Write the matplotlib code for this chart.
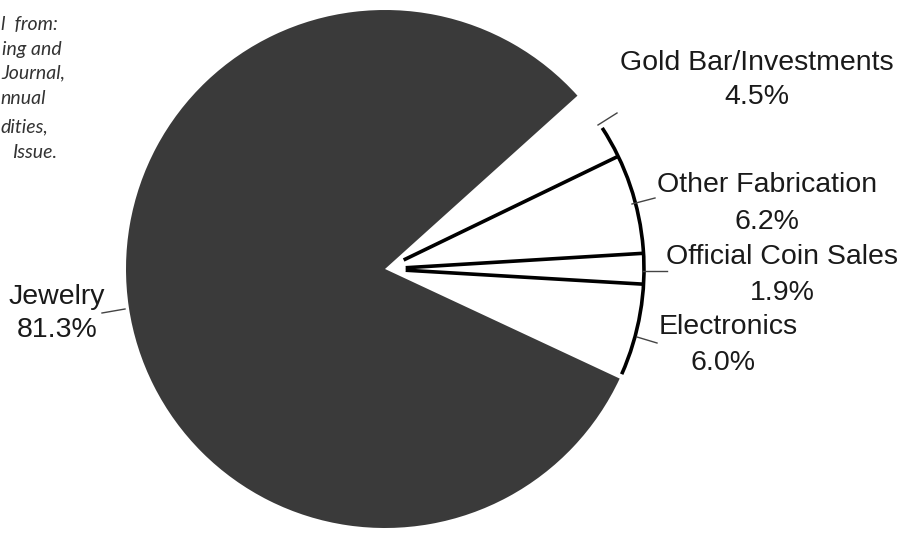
import numpy as np
import matplotlib.pyplot as plt
from matplotlib.patches import Arc

# gold consumption by end use (percent), clockwise from the top-right
labels = ["Gold Bar/Investments", "Other Fabrication", "Official Coin Sales", "Electronics", "Jewelry"]
shares = [4.5, 6.2, 1.9, 6.0, 81.3]
pct_text = ["4.5%", "6.2%", "1.9%", "6.0%", "81.3%"]

# visible fragments of the (cropped) source note
note_lines = ["l  from:", "ing and", "Journal,", "nnual", "dities,", "Issue."]

W, H = 900, 533
DARK = "#3a3a3a"

fig = plt.figure(figsize=(9, 5.33), dpi=100)
ax = fig.add_axes([0, 0, 1, 1])

def fy(y):
    # image pixel row -> data y
    return H - y

cx, cy, R = 385, fy(269), 259
start = 42

colors = ["white"] * 4 + [DARK]
ax.pie(shares, startangle=start, counterclock=False, colors=colors,
       center=(cx, cy), radius=R, wedgeprops=dict(linewidth=0))

# black radial lines between the white slices
bounds = start - 3.6 * np.cumsum(shares)
for th in bounds[:3]:
    t = np.radians(th)
    ax.plot([cx + 0.08 * R * np.cos(t), cx + R * np.cos(t)],
            [cy + 0.08 * R * np.sin(t), cy + R * np.sin(t)],
            color="black", lw=2.6, solid_capstyle="butt")

# dark rim on the white part of the pie
ax.add_patch(Arc((cx, cy), 2 * R, 2 * R, theta1=bounds[3] + 1, theta2=start - 9,
                 color="black", lw=2.6))

# labels
fs = 20.5
font = "Liberation Sans"
lab_pos = [(757, 63, 97), (767, 185, 222), (782, 257, 293), (728, 327, 363), (57, 297, 330)]
for name, pct, (x, y1, y2) in zip(labels, pct_text, lab_pos):
    ax.text(x, fy(y1), name, ha="center", va="center", fontsize=fs, family=font, color="#1a1a1a")
    ax.text(x - (5 if name == "Electronics" else 0), fy(y2), pct, ha="center", va="center",
            fontsize=fs, family=font, color="#1a1a1a")

# leader lines
leaders = [((598, 125), (617, 113)), ((632, 204), (655, 198)), ((643, 271), (667, 271)),
           ((637, 337), (657, 343)), ((102, 313), (125, 309))]
for (x1, y1), (x2, y2) in leaders:
    ax.plot([x1, x2], [fy(y1), fy(y2)], color="#444444", lw=1.0)

# cropped source note, top-left
note_pos = [(1, 25), (2, 50), (1, 73), (0, 98), (0, 127), (12, 152)]
for txt, (x, y) in zip(note_lines, note_pos):
    ax.text(x, fy(y), txt, ha="left", va="center", fontsize=14, style="italic",
            family="Lato", color="#333333")

ax.set_xlim(0, W)
ax.set_ylim(0, H)
ax.set_aspect("equal")
ax.axis("off")

fig.savefig("out.png", dpi=100)
